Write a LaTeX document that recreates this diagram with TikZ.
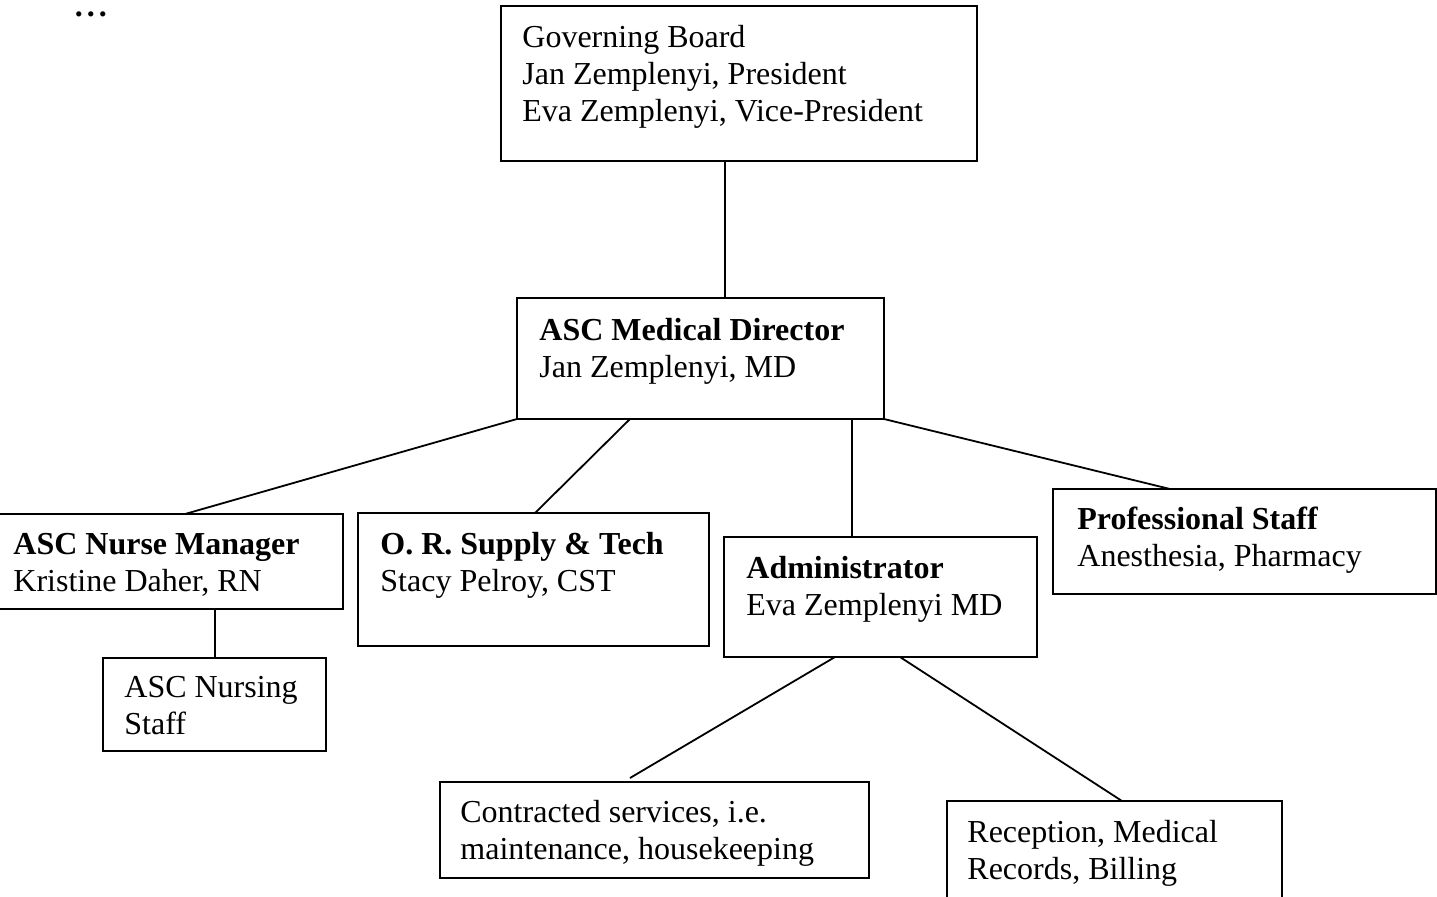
\documentclass[tikz,border=0pt]{standalone}
\usepackage{fontspec}
\setmainfont{Liberation Serif}
\usetikzlibrary{calc}
\begin{document}
\begin{tikzpicture}[x=0.5pt,y=-0.5pt,
  box/.style={draw, line width=0.9pt, inner sep=0pt, outer sep=0pt, anchor=north west},
  txt/.style={inner sep=0pt, anchor=base west, align=left, font=\fontsize{16}{18.5}\selectfont},
  link/.style={line width=0.9pt}]
\useasboundingbox (0,0) rectangle (1437,896);
\fill[white] (0,0) rectangle (1437,896);
% boxes
\node[box, minimum width=238pt, minimum height=77.5pt] (gov) at (501,6) {};
\node[box, minimum width=183.5pt, minimum height=60.5pt] (md) at (517,298) {};
\node[box, minimum width=174pt, minimum height=47.5pt] (nurse) at (-5,514) {};
\node[box, minimum width=175.5pt, minimum height=66.5pt] (or) at (358,513) {};
\node[box, minimum width=156.5pt, minimum height=60pt] (admin) at (724,537) {};
\node[box, minimum width=191.5pt, minimum height=52.5pt] (prof) at (1053,489) {};
\node[box, minimum width=111.5pt, minimum height=46.5pt] (nursing) at (103,658) {};
\node[box, minimum width=214.5pt, minimum height=48pt] (contr) at (440,782) {};
\node[box, minimum width=167.5pt, minimum height=57pt] (recep) at (947,801) {};
% texts (anchored at the baseline of the last line)
\node[txt] (govt) at ($(gov.north west)+(21,115)$) {Governing Board\\Jan Zemplenyi, President\\Eva Zemplenyi, Vice-President};
\node[txt] (mdt) at ($(md.north west)+(22,79)$) {\textbf{ASC Medical Director}\\Jan Zemplenyi, MD};
\node[txt] (nurset) at ($(nurse.north west)+(18,77)$) {\textbf{ASC Nurse Manager}\\Kristine Daher, RN};
\node[txt] (ort) at ($(or.north west)+(22,78)$) {\textbf{O. R. Supply \& Tech}\\Stacy Pelroy, CST};
\node[txt] (admint) at ($(admin.north west)+(22,78)$) {\textbf{Administrator}\\Eva Zemplenyi MD};
\node[txt] (proft) at ($(prof.north west)+(24,77)$) {\textbf{Professional Staff}\\Anesthesia, Pharmacy};
\node[txt] (nursingt) at ($(nursing.north west)+(21,76)$) {ASC Nursing\\Staff};
\node[txt] (contrt) at ($(contr.north west)+(20,77)$) {Contracted services, i.e.\\maintenance, housekeeping};
\node[txt] (recept) at ($(recep.north west)+(20,78)$) {Reception, Medical\\Records, Billing};
\node[inner sep=0pt, anchor=base, font=\fontsize{16}{18}\selectfont\bfseries] (dots) at (91,16) {.\kern2pt.\kern2pt.};
% connectors
\draw[link] ($(gov.south west)+(224,0)$) -- ($(md.north west)+(208,0)$);
\draw[link] (md.south west) -- ($(nurse.north west)+(190,0)$);
\draw[link] ($(md.south west)+(113,0)$) -- ($(or.north west)+(177,0)$);
\draw[link] ($(md.south west)+(335,0)$) -- ($(admin.north west)+(128,0)$);
\draw[link] (md.south east) -- ($(prof.north west)+(117,0)$);
\draw[link] ($(nurse.south west)+(220,0)$) -- ($(nursing.north west)+(112,0)$);
\draw[link] ($(admin.south west)+(111,0)$) -- ($(contr.north west)+(190,-4)$);
\draw[link] ($(admin.south west)+(176,0)$) -- ($(recep.north west)+(175,0)$);
\end{tikzpicture}
\end{document}
